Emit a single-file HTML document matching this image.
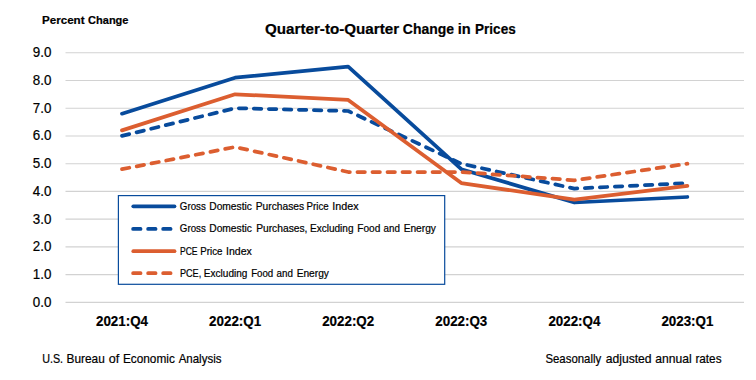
<!DOCTYPE html>
<html><head><meta charset="utf-8">
<style>
html,body{margin:0;padding:0;background:#fff;width:756px;height:380px;overflow:hidden}
svg{display:block}
text{font-family:"Liberation Sans",sans-serif;fill:#000;stroke:#000;stroke-width:0.2px}
.b{font-weight:bold}
</style></head>
<body>
<svg width="756" height="380" viewBox="0 0 756 380">
<rect x="0" y="0" width="756" height="380" fill="#fff"/>
<!-- gridlines -->
<g stroke="#d2d2d2" stroke-width="1.2" transform="translate(0,0.25)">
<line x1="65.5" y1="52.5" x2="744" y2="52.5"/>
<line x1="65.5" y1="80.25" x2="744" y2="80.25"/>
<line x1="65.5" y1="108" x2="744" y2="108"/>
<line x1="65.5" y1="135.74" x2="744" y2="135.74"/>
<line x1="65.5" y1="163.48" x2="744" y2="163.48"/>
<line x1="65.5" y1="191.22" x2="744" y2="191.22"/>
<line x1="65.5" y1="218.97" x2="744" y2="218.97"/>
<line x1="65.5" y1="246.71" x2="744" y2="246.71"/>
<line x1="65.5" y1="274.46" x2="744" y2="274.46"/>
<line x1="65.5" y1="302.2" x2="744" y2="302.2"/>
</g>
<!-- titles -->
<g class="b" font-size="11.2">
<text x="42.05" y="23.7" textLength="42.51" lengthAdjust="spacingAndGlyphs">Percent</text>
<text x="88.06" y="23.7" textLength="40.45" lengthAdjust="spacingAndGlyphs">Change</text>
</g>
<g class="b" font-size="14.5">
<text x="264.99" y="33.8" textLength="134.13" lengthAdjust="spacingAndGlyphs">Quarter-to-Quarter</text>
<text x="402.84" y="33.8" textLength="51.18" lengthAdjust="spacingAndGlyphs">Change</text>
<text x="457.78" y="33.8" textLength="12.98" lengthAdjust="spacingAndGlyphs">in</text>
<text x="475.12" y="33.8" textLength="40.55" lengthAdjust="spacingAndGlyphs">Prices</text>
</g>
<!-- y labels -->
<g font-size="14" text-anchor="end">
<text x="51.35" y="57.20" textLength="18.6" lengthAdjust="spacingAndGlyphs">9.0</text>
<text x="51.35" y="84.95" textLength="18.6" lengthAdjust="spacingAndGlyphs">8.0</text>
<text x="51.35" y="112.70" textLength="18.6" lengthAdjust="spacingAndGlyphs">7.0</text>
<text x="51.35" y="140.44" textLength="18.6" lengthAdjust="spacingAndGlyphs">6.0</text>
<text x="51.35" y="168.18" textLength="18.6" lengthAdjust="spacingAndGlyphs">5.0</text>
<text x="51.35" y="195.92" textLength="18.6" lengthAdjust="spacingAndGlyphs">4.0</text>
<text x="51.35" y="223.67" textLength="18.6" lengthAdjust="spacingAndGlyphs">3.0</text>
<text x="51.35" y="251.41" textLength="18.6" lengthAdjust="spacingAndGlyphs">2.0</text>
<text x="51.35" y="279.16" textLength="18.6" lengthAdjust="spacingAndGlyphs">1.0</text>
<text x="51.35" y="306.90" textLength="18.6" lengthAdjust="spacingAndGlyphs">0.0</text>
</g>
<!-- x labels -->
<g class="b" font-size="13.9" text-anchor="middle">
<text x="122" y="325.7" textLength="52"  lengthAdjust="spacingAndGlyphs">2021:Q4</text>
<text x="235.1" y="325.7" textLength="52"  lengthAdjust="spacingAndGlyphs">2022:Q1</text>
<text x="348.2" y="325.7" textLength="52"  lengthAdjust="spacingAndGlyphs">2022:Q2</text>
<text x="461.3" y="325.7" textLength="52"  lengthAdjust="spacingAndGlyphs">2022:Q3</text>
<text x="574.4" y="325.7" textLength="52"  lengthAdjust="spacingAndGlyphs">2022:Q4</text>
<text x="687.4" y="325.7" textLength="52"  lengthAdjust="spacingAndGlyphs">2023:Q1</text>
</g>
<!-- series -->
<g fill="none" stroke-width="3.75" stroke-linecap="round" stroke-linejoin="round" transform="translate(0,0.2)">
<path stroke="#084b9c" d="M122.0 113.5 L235.1 77.5 L348.2 66.4 L461.3 169.0 L574.4 202.3 L687.4 196.8"/>
<path stroke="#084b9c" stroke-dasharray="7.45 7.57" d="M122.0 135.7 L235.1 108.0 L348.2 110.8 L461.3 163.5 L574.4 188.4 L687.4 182.9"/>
<path stroke="#dc5e30" d="M122.0 130.2 L235.1 94.1 L348.2 99.7 L461.3 182.9 L574.4 199.5 L687.4 185.7"/>
<path stroke="#dc5e30" stroke-dasharray="7.45 7.57" d="M122.0 169.0 L235.1 146.8 L348.2 171.8 L461.3 171.8 L574.4 180.1 L687.4 163.5"/>
</g>
<!-- legend -->
<rect x="118.4" y="195.6" width="326.3" height="88.7" fill="#fff" stroke="#084b9c" stroke-width="1.2"/>
<g fill="none" stroke-width="3.75" stroke-linecap="round">
<line x1="133.3" y1="206.3" x2="174.5" y2="206.3" stroke="#084b9c"/>
<line x1="133.1" y1="228.9" x2="174.5" y2="228.9" stroke="#084b9c" stroke-dasharray="7.45 7.57"/>
<line x1="133.3" y1="251.2" x2="174.5" y2="251.2" stroke="#dc5e30"/>
<line x1="133.1" y1="273.2" x2="174.5" y2="273.2" stroke="#dc5e30" stroke-dasharray="7.45 7.57"/>
</g>
<g font-size="10.3">
<text x="179.86" y="209.9" textLength="25.95" lengthAdjust="spacingAndGlyphs">Gross</text>
<text x="209.23" y="209.9" textLength="42.75" lengthAdjust="spacingAndGlyphs">Domestic</text>
<text x="255.73" y="209.9" textLength="48.38" lengthAdjust="spacingAndGlyphs">Purchases</text>
<text x="306.58" y="209.9" textLength="22.04" lengthAdjust="spacingAndGlyphs">Price</text>
<text x="332.38" y="209.9" textLength="26.29" lengthAdjust="spacingAndGlyphs">Index</text>
</g>
<g font-size="10.3">
<text x="179.86" y="231.9" textLength="25.95" lengthAdjust="spacingAndGlyphs">Gross</text>
<text x="209.23" y="231.9" textLength="42.75" lengthAdjust="spacingAndGlyphs">Domestic</text>
<text x="256.13" y="231.9" textLength="51.32" lengthAdjust="spacingAndGlyphs">Purchases,</text>
<text x="309.95" y="231.9" textLength="43.57" lengthAdjust="spacingAndGlyphs">Excluding</text>
<text x="357.24" y="231.9" textLength="23.06" lengthAdjust="spacingAndGlyphs">Food</text>
<text x="383.56" y="231.9" textLength="16.36" lengthAdjust="spacingAndGlyphs">and</text>
<text x="403.63" y="231.9" textLength="32.3" lengthAdjust="spacingAndGlyphs">Energy</text>
</g>
<g font-size="10.3">
<text x="179.96" y="254.8" textLength="17.64" lengthAdjust="spacingAndGlyphs">PCE</text>
<text x="200.37" y="254.8" textLength="22.15" lengthAdjust="spacingAndGlyphs">Price</text>
<text x="226.1" y="254.8" textLength="25.77" lengthAdjust="spacingAndGlyphs">Index</text>
</g>
<g font-size="10.3">
<text x="179.92" y="277.1" textLength="21.35" lengthAdjust="spacingAndGlyphs">PCE,</text>
<text x="203.85" y="277.1" textLength="43.57" lengthAdjust="spacingAndGlyphs">Excluding</text>
<text x="251.17" y="277.1" textLength="22.1" lengthAdjust="spacingAndGlyphs">Food</text>
<text x="276.56" y="277.1" textLength="16.36" lengthAdjust="spacingAndGlyphs">and</text>
<text x="296.63" y="277.1" textLength="32.3" lengthAdjust="spacingAndGlyphs">Energy</text>
</g>
<!-- footer -->
<g font-size="11.9">
<text x="42.14" y="362.7" textLength="20.93" lengthAdjust="spacingAndGlyphs">U.S.</text>
<text x="66.5" y="362.7" textLength="38.22" lengthAdjust="spacingAndGlyphs">Bureau</text>
<text x="108.65" y="362.7" textLength="10.49" lengthAdjust="spacingAndGlyphs">of</text>
<text x="122.9" y="362.7" textLength="51.95" lengthAdjust="spacingAndGlyphs">Economic</text>
<text x="178.65" y="362.7" textLength="42.79" lengthAdjust="spacingAndGlyphs">Analysis</text>
</g>
<g font-size="11.9">
<text x="545.44" y="362.7" textLength="55.74" lengthAdjust="spacingAndGlyphs">Seasonally</text>
<text x="605.66" y="362.7" textLength="45.99" lengthAdjust="spacingAndGlyphs">adjusted</text>
<text x="655.27" y="362.7" textLength="36.41" lengthAdjust="spacingAndGlyphs">annual</text>
<text x="695.39" y="362.7" textLength="26.16" lengthAdjust="spacingAndGlyphs">rates</text>
</g>
</svg>
</body></html>
